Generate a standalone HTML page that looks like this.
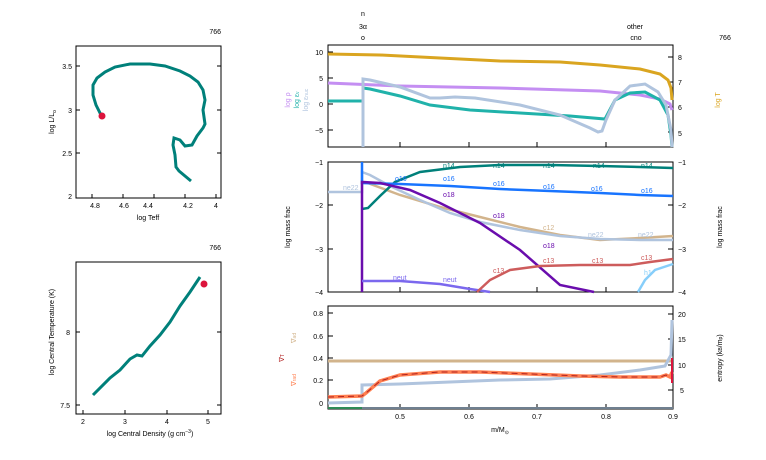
<!DOCTYPE html>
<html><head><style>
body{margin:0;background:#fff;}
svg{display:block;font-family:"Liberation Sans",sans-serif;}
</style></head><body>
<svg width="766" height="460" viewBox="0 0 766 460" xmlns="http://www.w3.org/2000/svg">
<g font-size="7" fill="#000">
<!-- HR panel -->
<rect x="76" y="46" width="145" height="152" fill="none" stroke="#000" stroke-width="1"/>
<text x="221" y="34" text-anchor="end">766</text>
<g stroke="#000" stroke-width="1">
<line x1="76" y1="66" x2="80" y2="66"/><line x1="76" y1="110" x2="80" y2="110"/><line x1="76" y1="153" x2="80" y2="153"/>
<line x1="221" y1="66" x2="217" y2="66"/><line x1="221" y1="110" x2="217" y2="110"/><line x1="221" y1="153" x2="217" y2="153"/>
<line x1="92" y1="198" x2="92" y2="194"/><line x1="123" y1="198" x2="123" y2="194"/><line x1="154" y1="198" x2="154" y2="194"/><line x1="185" y1="198" x2="185" y2="194"/><line x1="216" y1="198" x2="216" y2="194"/>
</g>
<text x="72" y="69" text-anchor="end">3.5</text><text x="72" y="113" text-anchor="end">3</text><text x="72" y="156" text-anchor="end">2.5</text><text x="72" y="199" text-anchor="end">2</text>
<text x="95" y="208" text-anchor="middle">4.8</text><text x="124" y="208" text-anchor="middle">4.6</text><text x="148" y="208" text-anchor="middle">4.4</text><text x="188" y="208" text-anchor="middle">4.2</text><text x="216" y="208" text-anchor="middle">4</text>
<text x="148" y="220" text-anchor="middle">log Teff</text>
<text transform="translate(54,122) rotate(-90)" text-anchor="middle">log L/L<tspan font-size="5" dy="2">o</tspan></text>
<polyline fill="none" stroke="#00807a" stroke-width="3" points="191,181 185,176 179,171 176,167 175,155 173,145 174,138 180,140 185,146 192,145 197,136 203,128 205,124 203,110 205,100 203,90 198,82 190,76 180,71 165,66 150,64 130,64 115,67 105,72 97,78 93,85 93,95 96,105 100,113 102,117"/>
<circle cx="102" cy="116" r="3.5" fill="#dc143c"/>

<!-- Density panel -->
<rect x="76" y="262" width="145" height="152" fill="none" stroke="#000" stroke-width="1"/>
<text x="221" y="250" text-anchor="end">766</text>
<g stroke="#000" stroke-width="1">
<line x1="76" y1="332" x2="80" y2="332"/><line x1="76" y1="405" x2="80" y2="405"/>
<line x1="221" y1="332" x2="217" y2="332"/><line x1="221" y1="405" x2="217" y2="405"/>
<line x1="83" y1="414" x2="83" y2="410"/><line x1="125" y1="414" x2="125" y2="410"/><line x1="167" y1="414" x2="167" y2="410"/><line x1="208" y1="414" x2="208" y2="410"/>
</g>
<text x="70" y="335" text-anchor="end">8</text><text x="70" y="408" text-anchor="end">7.5</text>
<text x="83" y="424" text-anchor="middle">2</text><text x="125" y="424" text-anchor="middle">3</text><text x="167" y="424" text-anchor="middle">4</text><text x="208" y="424" text-anchor="middle">5</text>
<text x="150" y="436" text-anchor="middle">log Central Density (g cm<tspan font-size="5" dy="-3">−3</tspan><tspan dy="3">)</tspan></text>
<text transform="translate(54,332) rotate(-90)" text-anchor="middle">log Central Temperature (K)</text>
<polyline fill="none" stroke="#00807a" stroke-width="3" points="93,395 110,378 120,370 130,359 137,355 142,356 150,346 160,335 170,322 180,306 190,292 200,277 200,277"/>
<circle cx="204" cy="284" r="3.5" fill="#dc143c"/>

<!-- main panels -->
<rect x="328" y="45" width="345" height="102" fill="none" stroke="#000"/>
<rect x="328" y="162" width="345" height="130" fill="none" stroke="#000"/>
<rect x="328" y="306" width="345" height="103" fill="none" stroke="#000"/>
<text x="363" y="16" text-anchor="middle">n</text><text x="363" y="29" text-anchor="middle">3α</text><text x="363" y="40" text-anchor="middle">o</text>
<text x="635" y="29" text-anchor="middle">other</text><text x="636" y="40" text-anchor="middle">cno</text>
<text x="725" y="40" text-anchor="middle">766</text>
<g stroke="#000">
<line x1="328" y1="52" x2="333" y2="52"/><line x1="328" y1="78" x2="333" y2="78"/><line x1="328" y1="104" x2="333" y2="104"/><line x1="328" y1="130" x2="333" y2="130"/>
<line x1="673" y1="57" x2="668" y2="57"/><line x1="673" y1="82" x2="668" y2="82"/><line x1="673" y1="107" x2="668" y2="107"/><line x1="673" y1="132" x2="668" y2="132"/>
<line x1="328" y1="205" x2="333" y2="205"/><line x1="328" y1="249" x2="333" y2="249"/>
<line x1="673" y1="205" x2="668" y2="205"/><line x1="673" y1="249" x2="668" y2="249"/>
<line x1="328" y1="313" x2="333" y2="313"/><line x1="328" y1="336" x2="333" y2="336"/><line x1="328" y1="358" x2="333" y2="358"/><line x1="328" y1="380" x2="333" y2="380"/><line x1="328" y1="403" x2="333" y2="403"/>
<line x1="673" y1="314" x2="668" y2="314"/><line x1="673" y1="339" x2="668" y2="339"/><line x1="673" y1="365" x2="668" y2="365"/><line x1="673" y1="390" x2="668" y2="390"/>
<line x1="400" y1="409" x2="400" y2="404"/><line x1="469" y1="409" x2="469" y2="404"/><line x1="537" y1="409" x2="537" y2="404"/><line x1="606" y1="409" x2="606" y2="404"/>
<line x1="400" y1="147" x2="400" y2="142"/><line x1="469" y1="147" x2="469" y2="142"/><line x1="537" y1="147" x2="537" y2="142"/><line x1="606" y1="147" x2="606" y2="142"/>
<line x1="400" y1="292" x2="400" y2="287"/><line x1="469" y1="292" x2="469" y2="287"/><line x1="537" y1="292" x2="537" y2="287"/><line x1="606" y1="292" x2="606" y2="287"/>
</g>
<text x="323" y="55" text-anchor="end">10</text><text x="323" y="81" text-anchor="end">5</text><text x="323" y="107" text-anchor="end">0</text><text x="323" y="133" text-anchor="end">−5</text>
<text x="678" y="60">8</text><text x="678" y="85">7</text><text x="678" y="110">6</text><text x="678" y="136">5</text>
<text x="323" y="165" text-anchor="end">−1</text><text x="323" y="208" text-anchor="end">−2</text><text x="323" y="252" text-anchor="end">−3</text><text x="323" y="295" text-anchor="end">−4</text>
<text x="678" y="165">−1</text><text x="678" y="208">−2</text><text x="678" y="252">−3</text><text x="678" y="295">−4</text>
<text x="323" y="316" text-anchor="end">0.8</text><text x="323" y="339" text-anchor="end">0.6</text><text x="323" y="361" text-anchor="end">0.4</text><text x="323" y="383" text-anchor="end">0.2</text><text x="323" y="406" text-anchor="end">0</text>
<text x="678" y="317">20</text><text x="678" y="342">15</text><text x="678" y="368">10</text><text x="680" y="393">5</text>
<text x="400" y="419" text-anchor="middle">0.5</text><text x="469" y="419" text-anchor="middle">0.6</text><text x="537" y="419" text-anchor="middle">0.7</text><text x="606" y="419" text-anchor="middle">0.8</text><text x="673" y="419" text-anchor="middle">0.9</text>
<text x="500" y="432" text-anchor="middle">m/M<tspan font-size="5" dy="2">⊙</tspan></text>
<text transform="translate(290,100) rotate(-90)" text-anchor="middle" fill="#c48ef2">log ρ</text>
<text transform="translate(299,100) rotate(-90)" text-anchor="middle" fill="#20b2aa">log ε<tspan font-size="5">ν</tspan></text>
<text transform="translate(308,100) rotate(-90)" text-anchor="middle" fill="#b0c4de">log ε<tspan font-size="5">nuc</tspan></text>
<text transform="translate(720,100) rotate(-90)" text-anchor="middle" fill="#daa520">log T</text>
<text transform="translate(290,227) rotate(-90)" text-anchor="middle">log mass frac</text>
<text transform="translate(722,227) rotate(-90)" text-anchor="middle">log mass frac</text>
<text transform="translate(722,358) rotate(-90)" text-anchor="middle">entropy (k<tspan font-size="5">B</tspan>/m<tspan font-size="5">p</tspan>)</text>
<text transform="translate(296,338) rotate(-90)" text-anchor="middle" fill="#d2b48c">∇<tspan font-size="5">ad</tspan></text>
<text transform="translate(284,358) rotate(-90)" text-anchor="middle" fill="#b22222">∇<tspan font-size="5">T</tspan></text>
<text transform="translate(296,380) rotate(-90)" text-anchor="middle" fill="#ff7f50">∇<tspan font-size="5">rad</tspan></text>
</g>
<!-- top panel curves -->
<g fill="none" stroke-width="3">
<polyline stroke="#daa520" points="328,54 380,55 440,58 500,61 560,62 600,65 640,69 660,74 668,80 671,88 672,100"/>
<polyline stroke="#c48ef2" points="328,83 400,86 500,88 600,91 640,95 660,99 670,104 672,110"/>
<polyline stroke="#20b2aa" points="328,101 363,101 363,88 370,89 400,96 430,105 470,110 520,113 570,116 605,119 615,100 630,93 645,92 660,100 668,115 671,135 672,147"/>
<polyline stroke="#b0c4de" points="363,147 363,79 370,80 400,87 430,98 440,98 455,97 475,98 520,105 560,115 590,128 598,132 602,131 606,120 615,100 630,86 645,84 658,92 666,105 671,130 672,147"/>
</g>
<!-- middle panel -->
<g fill="none" stroke-width="2.5">
<polyline stroke="#d2b48c" points="365,182 400,195 440,207 480,217 520,227 560,235 600,240 640,238 673,236"/>
<polyline stroke="#b0c4de" points="328,192 362,192 362,172 370,175 390,186 420,200 450,213 480,222 520,230 560,236 600,239 640,240 673,240"/>
<polyline stroke="#00807a" points="362,209 368,208 380,196 395,182 420,172 460,167 500,165 550,165 600,166 640,167 673,168"/>
<polyline stroke="#1874ff" points="362,162 362,183 400,184 450,186 500,189 550,191 600,193 640,195 673,196"/>
<polyline stroke="#6a0dad" points="362,292 362,182 380,183 410,190 440,203 480,223 520,250 560,285 594,292"/>
<polyline stroke="#7b68ee" points="362,281 400,281 440,284 470,289 490,292"/>
<polyline stroke="#cd5c5c" points="477,292 490,280 510,270 540,266 580,265 630,265 650,262 673,259"/>
<polyline stroke="#87cefa" points="638,292 645,280 655,270 673,264"/>
</g>
<g font-family="Liberation Sans,sans-serif" font-size="7">
<text x="443" y="168" fill="#00807a">n14</text><text x="493" y="168" fill="#00807a">n14</text><text x="543" y="168" fill="#00807a">n14</text><text x="593" y="168" fill="#00807a">n14</text><text x="641" y="168" fill="#00807a">n14</text>
<text x="443" y="181" fill="#1874ff">o16</text><text x="493" y="186" fill="#1874ff">o16</text><text x="543" y="189" fill="#1874ff">o16</text><text x="591" y="191" fill="#1874ff">o16</text><text x="641" y="193" fill="#1874ff">o16</text>
<text x="395" y="181" fill="#1874ff">o16</text>
<text x="443" y="197" fill="#6a0dad">o18</text><text x="493" y="218" fill="#6a0dad">o18</text><text x="543" y="248" fill="#6a0dad">o18</text>
<text x="343" y="190" fill="#b0c4de">ne22</text><text x="588" y="237" fill="#b0c4de">ne22</text><text x="638" y="237" fill="#b0c4de">ne22</text>
<text x="543" y="230" fill="#d2b48c">c12</text>
<text x="393" y="280" fill="#7b68ee">neut</text><text x="443" y="282" fill="#7b68ee">neut</text>
<text x="493" y="273" fill="#cd5c5c">c13</text><text x="543" y="263" fill="#cd5c5c">c13</text><text x="592" y="263" fill="#cd5c5c">c13</text><text x="641" y="260" fill="#cd5c5c">c13</text>
<text x="644" y="275" fill="#87cefa">h1</text>
</g>
<!-- bottom panel -->
<g fill="none">
<line x1="328" y1="408" x2="673" y2="408" stroke="#708090" stroke-width="2"/>
<line x1="328" y1="408" x2="362" y2="408" stroke="#2e8b57" stroke-width="2"/>
<polyline stroke="#d2b48c" stroke-width="3" points="328,361 673,361"/>
<polyline stroke="#b0c4de" stroke-width="3" points="328,403 362,402 362,385 400,384 450,382 500,380 550,379 600,375 640,370 665,366 671,355 672,320"/>
<polyline stroke="#ff7f50" stroke-width="3.5" points="328,397 362,396 366,393 380,381 400,375 440,372 480,372 530,374 580,376 620,377 660,377 666,375 670,377 672,372"/>
<polyline stroke="#b22222" stroke-width="1" stroke-dasharray="6,4" points="328,397 362,396 366,393 380,381 400,375 440,372 480,372 530,374 580,376 620,377 660,377 666,375 670,377"/>
<line x1="672" y1="358" x2="672" y2="383" stroke="#dc143c" stroke-width="2"/>
</g>
</svg>
</body></html>
